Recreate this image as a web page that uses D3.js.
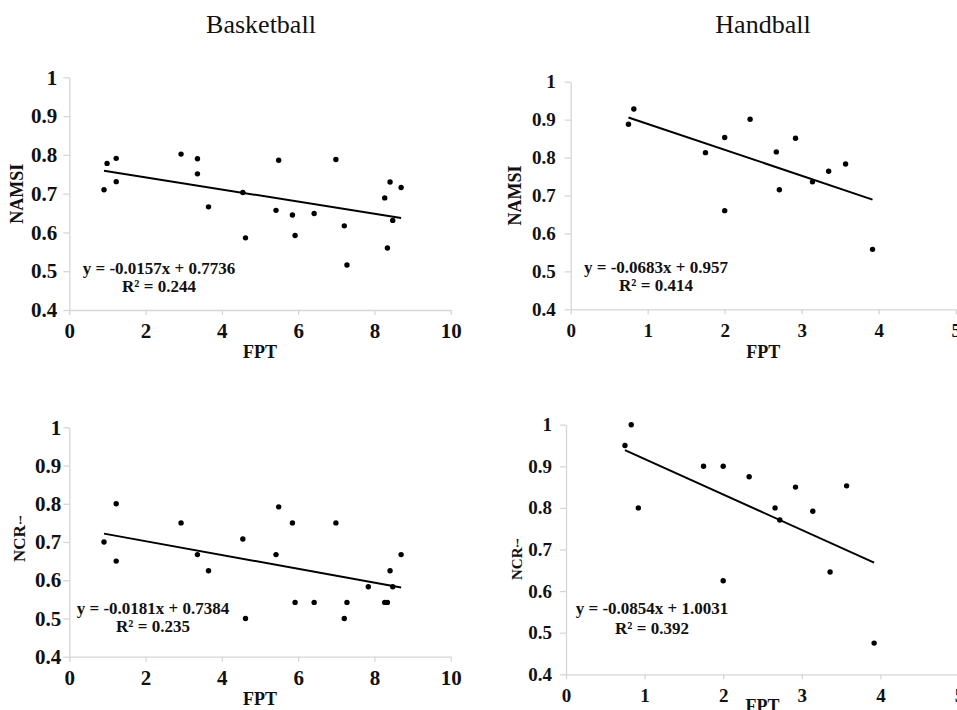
<!DOCTYPE html>
<html>
<head>
<meta charset="utf-8">
<script src="https://cdn.jsdelivr.net/npm/d3@7"></script>
<style>
  body { margin: 0; background: #fff; }
  text { font-family: "Liberation Serif", "Times New Roman", serif; fill: #111; }
</style>
</head>
<body>
<div id="chart"></div>
<script>
// ---- data ----
const sports = ["Basketball", "Handball"];

const bbFPT_namsi = [0.91, 0.99, 1.23, 1.23, 2.93, 3.36, 3.36, 3.65, 4.55, 4.62, 5.42, 5.49, 5.85, 5.92, 6.42, 6.99, 7.21, 7.28, 8.27, 8.34, 8.41, 8.48, 8.70];
const bbNAMSI     = [0.710, 0.778, 0.791, 0.731, 0.802, 0.790, 0.751, 0.666, 0.703, 0.586, 0.657, 0.786, 0.645, 0.592, 0.649, 0.788, 0.617, 0.516, 0.689, 0.560, 0.730, 0.631, 0.716];

const hbFPT_namsi = [0.75, 0.82, 1.75, 2.00, 2.00, 2.33, 2.67, 2.71, 2.92, 3.14, 3.35, 3.57, 3.92];
const hbNAMSI     = [0.888, 0.928, 0.813, 0.853, 0.660, 0.901, 0.815, 0.715, 0.851, 0.736, 0.764, 0.783, 0.558];

const bbFPT_ncr = [0.91, 1.23, 1.23, 2.93, 3.36, 3.65, 4.55, 4.62, 5.42, 5.49, 5.85, 5.92, 6.42, 6.99, 7.21, 7.28, 7.84, 8.27, 8.34, 8.41, 8.48, 8.70];
const bbNCR     = [0.700, 0.800, 0.650, 0.750, 0.667, 0.625, 0.708, 0.500, 0.667, 0.792, 0.750, 0.542, 0.542, 0.750, 0.500, 0.542, 0.583, 0.542, 0.542, 0.625, 0.583, 0.667];

const hbFPT_ncr = [0.75, 0.83, 0.92, 1.75, 2.00, 2.00, 2.33, 2.66, 2.72, 2.92, 3.14, 3.36, 3.57, 3.92];
const hbNCR     = [0.950, 1.000, 0.800, 0.900, 0.900, 0.625, 0.875, 0.800, 0.771, 0.850, 0.792, 0.646, 0.853, 0.475];

// linear fits as printed on the chart: [slope, intercept, r2]
const bbNamsiFit = [-0.0157, 0.7736, 0.244];
const hbNamsiFit = [-0.0683, 0.957, 0.414];
const bbNcrFit   = [-0.0181, 0.7384, 0.235];
const hbNcrFit   = [-0.0854, 1.0031, 0.392];

const yTicks  = [0.4, 0.5, 0.6, 0.7, 0.8, 0.9, 1];
const bbTicks = [0, 2, 4, 6, 8, 10];
const hbTicks = [0, 1, 2, 3, 4, 5];

// ---- layout ----
const width = 957, height = 710;

const svg = d3.select("#chart")
  .append("svg")
  .attr("width", width)
  .attr("height", height);

svg.append("rect").attr("width", width).attr("height", height).attr("fill", "#fff");

svg.selectAll(".title")
  .data(sports)
  .join("text")
  .attr("class", "title")
  .attr("x", (d, i) => i === 0 ? 261 : 763)
  .attr("y", 33)
  .attr("text-anchor", "middle")
  .style("font-size", "26px")
  .text(d => d);

const panels = [
  { xs: bbFPT_namsi, ys: bbNAMSI, fit: bbNamsiFit, xTicks: bbTicks, ylab: "NAMSI",
    xRange: [69.3, 450.7], yRange: [310, 77.3], tickFont: 21, yPad: 6,
    fptY: 48, ylabX: 23, eq: [159, 274, 292] },
  { xs: hbFPT_namsi, ys: hbNAMSI, fit: hbNamsiFit, xTicks: hbTicks, ylab: "NAMSI",
    xRange: [570.7, 955.7], yRange: [309.3, 81.7], tickFont: 19, yPad: 9,
    fptY: 49, ylabX: 521, eq: [656, 273, 291] },
  { xs: bbFPT_ncr, ys: bbNCR, fit: bbNcrFit, xTicks: bbTicks, ylab: "NCR",
    xRange: [69.3, 450.7], yRange: [656.7, 427.3], tickFont: 21, yPad: 2,
    fptY: 48, ylabX: 25, ylabBottom: 562, ylabFont: 17, eq: [153, 614, 632] },
  { xs: hbFPT_ncr, ys: hbNCR, fit: hbNcrFit, xTicks: hbTicks, ylab: "NCR",
    xRange: [566, 959], yRange: [674.3, 424.7], tickFont: 19, yPad: 8,
    fptY: 38, ylabX: 522, ylabBottom: 580, ylabFont: 15, eq: [652, 614, 634] }
];

panels.forEach(p => scatter(p));

function scatter(p) {
  const xScale = d3.scaleLinear().domain([0, d3.max(p.xTicks)]).range(p.xRange);
  const yScale = d3.scaleLinear().domain([0.4, 1]).range(p.yRange);

  const g = svg.append("g");

  const xAxis = d3.axisBottom(xScale)
    .tickValues(p.xTicks)
    .tickSize(5)
    .tickSizeOuter(0)
    .tickFormat(d3.format("d"));

  const yAxis = d3.axisLeft(yScale)
    .tickValues(yTicks)
    .tickSize(6)
    .tickSizeOuter(0)
    .tickPadding(p.yPad)
    .tickFormat(d => d === 1 ? "1" : d.toFixed(1));

  const gx = g.append("g")
    .attr("transform", `translate(0, ${p.yRange[0]})`)
    .call(xAxis);
  gx.selectAll(".tick text").attr("y", 28).attr("dy", 0);

  g.append("g")
    .attr("transform", `translate(${p.xRange[0]}, 0)`)
    .call(yAxis);

  g.selectAll(".domain, .tick line")
    .attr("stroke", "#d6d6d6")
    .attr("stroke-width", 1.3);
  g.selectAll(".tick text")
    .attr("fill", "#111")
    .style("font-family", "'Liberation Serif', serif")
    .style("font-weight", "bold")
    .style("font-size", p.tickFont + "px");

  // trend line over the data range
  const [lo, hi] = d3.extent(p.xs);
  const [m, b] = p.fit;
  const line = d3.line().x(d => xScale(d)).y(d => yScale(m * d + b));
  g.append("path")
    .datum([lo, hi])
    .attr("d", line)
    .attr("fill", "none")
    .attr("stroke", "#000")
    .attr("stroke-width", 2);

  // points
  g.selectAll(".pt")
    .data(p.xs.map((d, i) => [d, p.ys[i]]))
    .join("circle")
    .attr("class", "pt")
    .attr("cx", d => xScale(d[0]))
    .attr("cy", d => yScale(d[1]))
    .attr("r", 2.7)
    .attr("fill", "#000");

  // axis titles
  g.append("text")
    .attr("x", (p.xRange[0] + xScale(d3.max(p.xTicks))) / 2)
    .attr("y", p.yRange[0] + p.fptY)
    .attr("text-anchor", "middle")
    .style("font-size", "18px")
    .style("font-weight", "bold")
    .text("FPT");

  if (p.ylab === "NAMSI") {
    const cy = (p.yRange[0] + p.yRange[1]) / 2;
    g.append("text")
      .attr("transform", `translate(${p.ylabX}, ${cy}) rotate(-90)`)
      .attr("text-anchor", "middle")
      .style("font-size", "18px")
      .style("font-weight", "bold")
      .text(p.ylab);
  } else {
    const lab = g.append("text")
      .attr("transform", `translate(${p.ylabX}, ${p.ylabBottom}) rotate(-90)`)
      .attr("text-anchor", "start")
      .style("font-size", p.ylabFont + "px")
      .style("font-weight", "bold")
      .text(p.ylab);
    // the small upright mark that sits above the rotated label
    const len = lab.node().getComputedTextLength();
    g.append("text")
      .attr("x", p.ylabX - 4.5)
      .attr("y", p.ylabBottom - len - 1)
      .attr("text-anchor", "middle")
      .style("font-size", "12px")
      .style("font-weight", "bold")
      .text("!");
  }

  // regression equation
  const fmt = v => (v < 0 ? "-" : "") + Math.abs(v);
  g.append("text")
    .attr("x", p.eq[0]).attr("y", p.eq[1])
    .attr("text-anchor", "middle")
    .style("font-size", "17px")
    .style("font-weight", "bold")
    .text(`y = ${fmt(m)}x + ${b}`);
  g.append("text")
    .attr("x", p.eq[0]).attr("y", p.eq[2])
    .attr("text-anchor", "middle")
    .style("font-size", "17px")
    .style("font-weight", "bold")
    .text(`R² = ${p.fit[2]}`);
}
</script>
</body>
</html>
